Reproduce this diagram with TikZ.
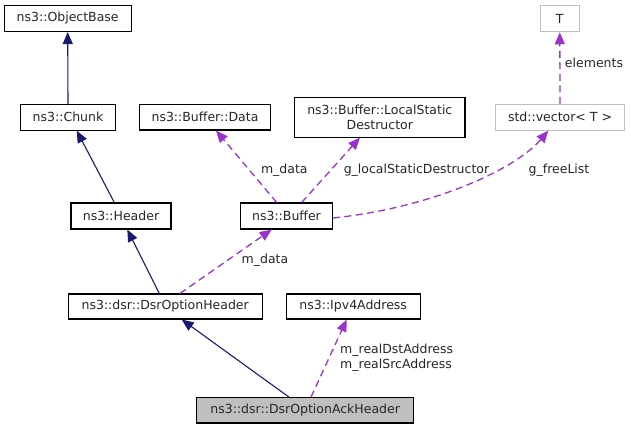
\documentclass[tikz,border=0pt]{standalone}
\usepackage{fontspec}
\setmainfont{DejaVu Sans}
\usetikzlibrary{arrows.meta}
\definecolor{navyedge}{HTML}{191970}
\definecolor{purpedge}{HTML}{9A32CD}
\definecolor{grayborder}{HTML}{BFBFBF}
\definecolor{ackfill}{HTML}{BFBFBF}
\tikzset{
  cls/.style={draw=black, line width=1.1pt, fill=white, inner sep=0pt, align=center,
    font=\fontsize{12.5}{15}\selectfont, text=black!85},
  tmpl/.style={cls, draw=grayborder},
  inh/.style={draw=navyedge, line width=1.1pt, -{Triangle[length=12pt,width=10pt]}},
  use/.style={draw=purpedge, line width=1.3pt, dash pattern=on 7pt off 4.5pt, -{Triangle[length=12pt,width=10pt]}},
  lbl/.style={inner sep=0pt, font=\fontsize{12.5}{15}\selectfont, text=black!85, align=left},
}
\begin{document}
\begin{tikzpicture}[x=1pt,y=-1pt]
\useasboundingbox (0,0) rectangle (631,429);
\node[cls, minimum width=127pt, minimum height=26pt] (ob) at (67.7,18.5) {ns3::ObjectBase};
\node[cls, minimum width=94.7pt, minimum height=25.7pt] (chunk) at (68,117.2) {ns3::Chunk};
\node[cls, minimum width=131.4pt, minimum height=25.3pt] (data) at (205,117.3) {ns3::Buffer::Data};
\node[cls, minimum width=170.3pt, minimum height=39.7pt] (lsd) at (379.8,117.2) {ns3::Buffer::LocalStatic\\Destructor};
\node[tmpl, minimum width=129.4pt, minimum height=25.7pt] (vec) at (560,117.2) {std::vector\textless{} T \textgreater};
\node[tmpl, minimum width=39pt, minimum height=26pt] (T) at (559.8,18.7) {T};
\node[cls, minimum width=100pt, minimum height=26pt] (hdr) at (121,216) {ns3::Header};
\node[cls, minimum width=91.6pt, minimum height=26pt] (buf) at (286.5,216) {ns3::Buffer};
\node[cls, minimum width=193.7pt, minimum height=25pt] (doh) at (165.2,306.5) {ns3::dsr::DsrOptionHeader};
\node[cls, minimum width=133.7pt, minimum height=25pt] (ipv4) at (353.2,306.5) {ns3::Ipv4Address};
\node[cls, fill=ackfill, minimum width=217pt, minimum height=25.3pt] (ack) at (305.2,410.3) {ns3::dsr::DsrOptionAckHeader};

% inheritance
\draw[inh] (chunk.north) -- (ob.south);
\draw[inh] ([xshift=-6.7pt]hdr.north) -- ([xshift=8.7pt]chunk.south);
\draw[inh] ([xshift=-5.9pt]doh.north) -- ([xshift=6.3pt]hdr.south);
\draw[inh] ([xshift=-16.2pt]ack.north) -- ([xshift=16.5pt]doh.south);

% usage
\draw[use] ([xshift=5.8pt]ack.north) -- ([xshift=-6.5pt]ipv4.south);
\draw[use] ([xshift=14.8pt]doh.north) -- ([xshift=-14.8pt]buf.south);
\draw[use] ([xshift=-9.8pt]buf.north) -- ([xshift=11pt]data.south);
\draw[use] ([xshift=15.2pt]buf.north) -- ([xshift=-19.8pt]lsd.south);
\draw[use] ([yshift=-2pt]buf.east) .. controls (430,208) and (515,170) .. ([xshift=-11.7pt]vec.south);
\draw[use] (vec.north) -- (T.south);

% labels
\node[lbl] (l1) at (284.3,170) {m\_data};
\node[lbl] (l2) at (416.5,170) {g\_localStaticDestructor};
\node[lbl] (l3) at (559,170) {g\_freeList};
\node[lbl] (l4) at (594,63) {elements};
\node[lbl] (l5) at (265,260.7) {m\_data};
\node[lbl, anchor=west] (l6) at (340,357.5) {m\_realDstAddress\\m\_realSrcAddress};
\end{tikzpicture}
\end{document}
